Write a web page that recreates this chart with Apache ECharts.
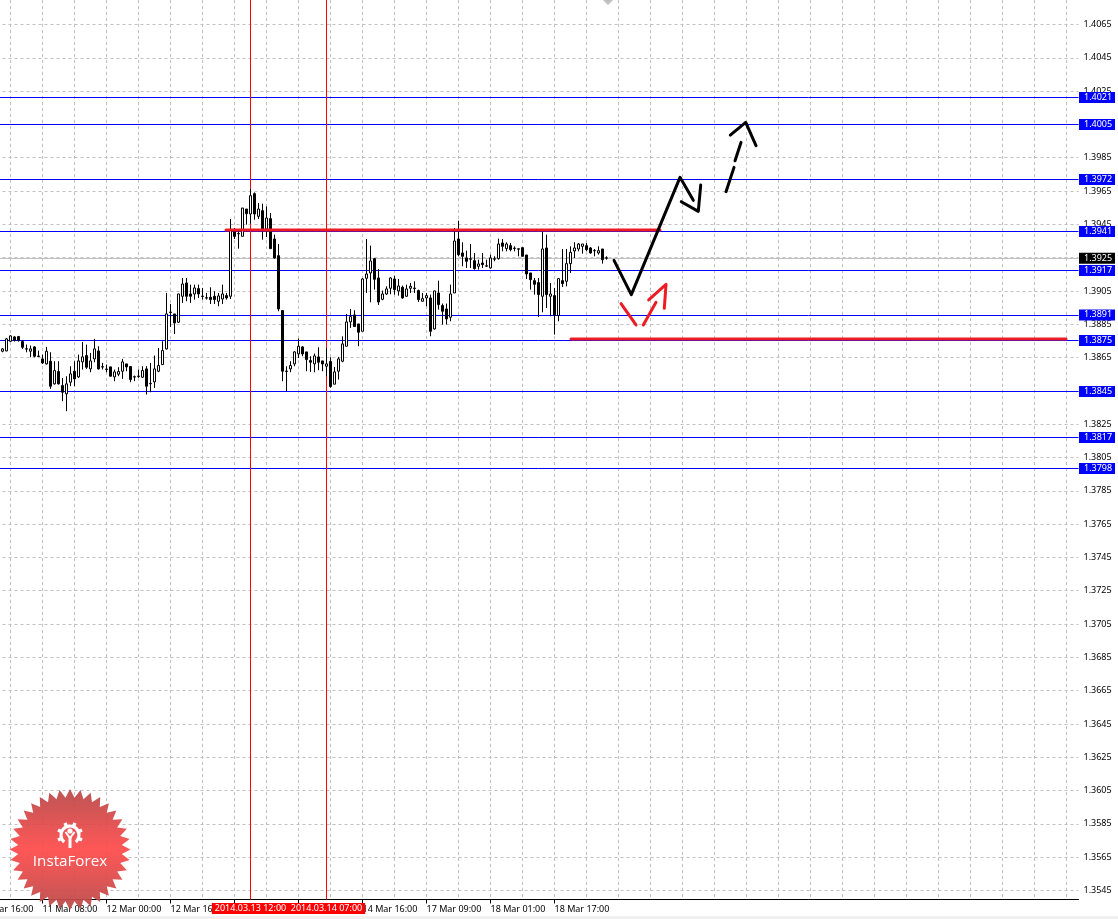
<!DOCTYPE html>
<html><head><meta charset="utf-8">
<style>html,body{margin:0;padding:0;background:#fff}#c{width:1118px;height:919px}</style>
<script src="https://cdn.jsdelivr.net/npm/echarts@6/dist/echarts.min.js"></script>
</head><body><div id="c"></div>
<script>
// [open, close, low, high]
const candles = [
[1.38688,1.38702,1.38682,1.38708],[1.38690,1.38762,1.38688,1.38768],[1.38748,1.38780,1.38744,1.38784],[1.38774,1.38754,1.38746,1.38778],
[1.38776,1.38752,1.38746,1.38780],[1.38746,1.38712,1.38702,1.38754],[1.38703,1.38701,1.38682,1.38728],[1.38688,1.38702,1.38652,1.38722],
[1.38714,1.38658,1.38652,1.38718],[1.38659,1.38657,1.38652,1.38692],[1.38642,1.38618,1.38612,1.38668],[1.38612,1.38688,1.38608,1.38714],
[1.38628,1.38478,1.38462,1.38682],[1.38492,1.38572,1.38488,1.38628],[1.38566,1.38492,1.38488,1.38628],[1.38482,1.38442,1.38388,1.38528],
[1.38432,1.38492,1.38328,1.38538],[1.38502,1.38552,1.38478,1.38598],[1.38568,1.38522,1.38478,1.38628],[1.38534,1.38630,1.38528,1.38668],
[1.38624,1.38654,1.38578,1.38744],[1.38662,1.38592,1.38582,1.38728],[1.38582,1.38630,1.38562,1.38678],[1.38642,1.38702,1.38622,1.38762],
[1.38690,1.38582,1.38578,1.38718],[1.38595,1.38593,1.38578,1.38618],[1.38581,1.38579,1.38562,1.38608],[1.38594,1.38538,1.38538,1.38594],
[1.38534,1.38564,1.38508,1.38578],[1.38550,1.38566,1.38538,1.38592],[1.38568,1.38624,1.38522,1.38642],[1.38612,1.38594,1.38568,1.38612],
[1.38596,1.38518,1.38502,1.38596],[1.38535,1.38533,1.38508,1.38542],[1.38539,1.38537,1.38528,1.38578],[1.38532,1.38572,1.38528,1.38598],
[1.38582,1.38478,1.38428,1.38598],[1.38495,1.38493,1.38442,1.38618],[1.38504,1.38582,1.38468,1.38662],[1.38568,1.38602,1.38562,1.38708],
[1.38608,1.38692,1.38608,1.38748],[1.38702,1.38912,1.38698,1.39038],[1.38923,1.38921,1.38834,1.38972],[1.38912,1.38858,1.38792,1.38912],
[1.38862,1.39032,1.38858,1.39032],[1.39018,1.39092,1.38978,1.39128],[1.39098,1.39018,1.38988,1.39128],[1.39032,1.39018,1.38978,1.39088],
[1.39032,1.39068,1.38998,1.39088],[1.39064,1.39032,1.39008,1.39088],[1.39019,1.39017,1.38998,1.39068],[1.39009,1.39007,1.38998,1.39038],
[1.39012,1.38998,1.38972,1.39072],[1.39018,1.38998,1.38972,1.39048],[1.38988,1.39020,1.38958,1.39038],[1.39002,1.39032,1.38972,1.39088],
[1.39022,1.39008,1.38998,1.39038],[1.39018,1.39418,1.39002,1.39482],[1.39414,1.39378,1.39362,1.39428],[1.39395,1.39393,1.39304,1.39418],
[1.39378,1.39548,1.39378,1.39548],[1.39542,1.39514,1.39448,1.39542],[1.39512,1.39622,1.39454,1.39662],[1.39634,1.39512,1.39478,1.39642],
[1.39498,1.39542,1.39482,1.39578],[1.39532,1.39422,1.39358,1.39574],[1.39422,1.39488,1.39374,1.39558],[1.39484,1.39304,1.39304,1.39518],
[1.39362,1.39248,1.39244,1.39388],[1.39262,1.38942,1.38928,1.39332],[1.38932,1.38568,1.38508,1.38932],[1.38569,1.38567,1.38448,1.38598],
[1.38582,1.38602,1.38562,1.38628],[1.38612,1.38684,1.38598,1.38688],[1.38672,1.38718,1.38648,1.38764],[1.38714,1.38672,1.38658,1.38718],
[1.38684,1.38638,1.38568,1.38684],[1.38632,1.38622,1.38564,1.38658],[1.38612,1.38660,1.38562,1.38674],[1.38654,1.38622,1.38574,1.38712],
[1.38630,1.38612,1.38568,1.38630],[1.38598,1.38612,1.38538,1.38708],[1.38626,1.38476,1.38468,1.38652],[1.38490,1.38564,1.38490,1.38594],
[1.38568,1.38642,1.38518,1.38654],[1.38628,1.38732,1.38622,1.38778],[1.38718,1.38864,1.38718,1.38912],[1.38864,1.38896,1.38828,1.38942],
[1.38906,1.38836,1.38836,1.38934],[1.38852,1.38802,1.38718,1.38852],[1.38808,1.39122,1.38808,1.39126],[1.39126,1.39152,1.39038,1.39362],
[1.39158,1.39230,1.38982,1.39322],[1.39244,1.39120,1.39058,1.39248],[1.39128,1.38984,1.38966,1.39182],[1.39000,1.39032,1.38994,1.39052],
[1.39032,1.39062,1.39026,1.39078],[1.39066,1.39128,1.39030,1.39132],[1.39122,1.39058,1.39028,1.39142],[1.39050,1.39080,1.39022,1.39122],
[1.39072,1.39008,1.39004,1.39082],[1.39018,1.39062,1.39014,1.39088],[1.39066,1.39078,1.39038,1.39098],[1.39067,1.39065,1.39038,1.39108],
[1.39052,1.38998,1.38984,1.39058],[1.38988,1.39004,1.38988,1.39038],[1.39008,1.39022,1.38958,1.39038],[1.39008,1.38808,1.38778,1.39028],
[1.38822,1.39050,1.38818,1.39052],[1.39038,1.38968,1.38938,1.39112],[1.38962,1.38928,1.38848,1.38974],[1.38942,1.38882,1.38848,1.38974],
[1.38892,1.39032,1.38868,1.39088],[1.39038,1.39350,1.39038,1.39428],[1.39362,1.39268,1.39258,1.39472],[1.39278,1.39258,1.39198,1.39342],
[1.39248,1.39228,1.39188,1.39292],[1.39243,1.39241,1.39188,1.39332],[1.39232,1.39184,1.39178,1.39278],[1.39198,1.39212,1.39178,1.39238],
[1.39218,1.39208,1.39188,1.39278],[1.39201,1.39199,1.39194,1.39238],[1.39188,1.39248,1.39184,1.39268],[1.39243,1.39241,1.39228,1.39258],
[1.39244,1.39332,1.39238,1.39364],[1.39338,1.39318,1.39288,1.39362],[1.39304,1.39332,1.39288,1.39342],[1.39322,1.39298,1.39288,1.39338],
[1.39307,1.39305,1.39288,1.39318],[1.39303,1.39301,1.39258,1.39303],[1.39310,1.39258,1.39258,1.39310],[1.39266,1.39152,1.39122,1.39266],
[1.39158,1.39118,1.39058,1.39158],[1.39112,1.39090,1.39028,1.39128],[1.39100,1.39028,1.38894,1.39128],[1.39018,1.39302,1.38922,1.39408],
[1.39308,1.39028,1.38948,1.39388],[1.39018,1.39032,1.38898,1.39098],[1.39022,1.38906,1.38788,1.39068],[1.38902,1.39124,1.38868,1.39128],
[1.39112,1.39094,1.39074,1.39302],[1.39108,1.39214,1.39078,1.39302],[1.39214,1.39282,1.39158,1.39318],[1.39290,1.39308,1.39248,1.39342],
[1.39302,1.39332,1.39288,1.39338],[1.39318,1.39332,1.39274,1.39332],[1.39322,1.39298,1.39288,1.39338],[1.39308,1.39278,1.39274,1.39314],
[1.39293,1.39291,1.39258,1.39302],[1.39278,1.39292,1.39268,1.39318],[1.39302,1.39238,1.39214,1.39302],[1.39249,1.39247,1.39238,1.39258]
];
const levels = [1.40212,1.40050,1.39719,1.39407,1.39173,1.38906,1.38753,1.38446,1.38170,1.37984];
const lastPrice = 1.39246;
const priceTicks = [1.3545,1.3565,1.3585,1.3605,1.3625,1.3645,1.3665,1.3685,1.3705,1.3725,1.3745,1.3765,1.3785,1.3805,1.3825,1.3845,1.3865,1.3885,1.3905,1.3925,1.3945,1.3965,1.3985,1.4005,1.4025,1.4045,1.4065];
const timeLabels = ['10 Mar 16:00','11 Mar 08:00','12 Mar 00:00','12 Mar 16:00','13 Mar 08:00','14 Mar 00:00','14 Mar 16:00','17 Mar 09:00','18 Mar 01:00','18 Mar 17:00'];
const cursorTimes = ['13 Mar 12:00','14 Mar 07:00'];
const cursorNames = ['2014.03.13 12:00','2014.03.14 07:00'];
// hand-drawn annotations: [bar position, price]
const resistance = [[64.88,1.39416],[173.38,1.39416]];
const support = [[151.13,1.38762],[274.88,1.38762]];
const blackStrokes = [
 [[161.88,1.39234],[166.2,1.39028],[178.38,1.39732],[181.7,1.39594]],
 [[178.7,1.39586],[182.95,1.39528],[183.55,1.39686]],
 [[189.88,1.39646],[191.88,1.39792]],
 [[192.13,1.39832],[193.63,1.39942]],
 [[190.95,1.39986],[194.8,1.40062],[197.38,1.39922]]
];
const redStrokes = [
 [[163.63,1.38974],[167.38,1.38846]],
 [[169.2,1.38846],[172.38,1.38982]],
 [[170.55,1.38996],[174.88,1.3909],[174.45,1.38946]]
];

const MON = ['Jan','Feb','Mar'];
const categories = [];
for (let t = Date.UTC(2014,2,10,13); categories.length < 279; t += 3600000) {
  const d = new Date(t);
  const wd = d.getUTCDay();
  if (wd === 0 || wd === 6 || (wd === 5 && d.getUTCHours() === 23)) continue; // market closed
  const p = n => String(n).padStart(2,'0');
  categories.push(p(d.getUTCDate())+' '+MON[d.getUTCMonth()]+' '+p(d.getUTCHours())+':00');
}
const LEAD = 9;
const padded = new Array(LEAD).fill(['-','-','-','-']).concat(candles);
const FONT = 'Noto Sans';
const FS = 9;
const isTick = i => timeLabels.includes(categories[i]);

const lineLabel = {show:true,position:'end',distance:0.5,fontFamily:FONT,fontSize:FS,padding:[1,3,1,5],width:28,height:9,lineHeight:9,align:'left',color:'#fff'};
const levelData = levels.map(v => ({yAxis:v, lineStyle:{color:'#0000ff',width:1,type:'solid'},
  label:{...lineLabel,formatter:v.toFixed(4),backgroundColor:'#0000ff'}}));
levelData.push({yAxis:lastPrice, lineStyle:{color:'#c0c0c0',width:1,type:'solid'},
  label:{...lineLabel,formatter:lastPrice.toFixed(4),backgroundColor:'#000'}});
const cursorData = cursorTimes.map((c,i)=>({xAxis:c,name:cursorNames[i],lineStyle:{color:'#ff0000',width:1,type:'solid'},
  label:{show:true,position:'start',distance:3.5,formatter:cursorNames[i],color:'#fff',backgroundColor:'#ff0000',fontFamily:FONT,fontSize:FS,padding:[1,3,1,3]}}));

const strokeSeries = (pts,color,w)=>({type:'line',xAxisIndex:1,yAxisIndex:0,data:pts,showSymbol:false,symbol:'none',silent:true,animation:false,
  lineStyle:{color,width:w,cap:'round',join:'round'},z:6,clip:false});

// logo star outline (decoration)
const star=[];const N=36;for(let i=0;i<N*2;i++){const r=i%2?52:60.5;const a=Math.PI*i/N-Math.PI/2;star.push([70+r*Math.cos(a),849.5+r*Math.sin(a)]);}
const teeth=[];for(let i=0;i<8;i++){const a=Math.PI/8+i*Math.PI/4+Math.PI/2;if(i===0||i===7)continue;
  teeth.push({type:'line',shape:{x1:70+9*Math.cos(a),y1:835+9*Math.sin(a),x2:70+13*Math.cos(a),y2:835+13*Math.sin(a)},style:{stroke:'#fff',lineWidth:3.4},z:51});}

const chart = echarts.init(document.getElementById('c'),null,{renderer:'canvas'});
chart.setOption({
 animation:false,backgroundColor:'#fff',
 grid:{left:-33.5,right:39.5,top:0,bottom:19.5,outerBoundsMode:'none'},
 xAxis:[{
   type:'category',data:categories,boundaryGap:false,
   axisLine:{lineStyle:{color:'#000',width:1}},
   axisTick:{show:true,length:4,alignWithLabel:true,interval:isTick,lineStyle:{color:'#000'}},
   axisLabel:{show:true,interval:isTick,align:'left',margin:5.5,color:'#000',fontFamily:FONT,fontSize:FS,
     hideOverlap:false,showMinLabel:true,showMaxLabel:true},
   splitLine:{show:true,interval:i=>(i-3)%8===0,lineStyle:{color:'#c0c0c0',type:[3,3],width:1}}
 },{
   type:'value',min:0,max:278,show:false
 }],
 yAxis:{
   type:'value',position:'right',min:1.35396,max:1.40797,scale:true,
   axisLine:{show:true,lineStyle:{color:'#000',width:1}},
   axisTick:{show:true,length:4,customValues:priceTicks,lineStyle:{color:'#000'}},
   axisLabel:{customValues:priceTicks,margin:5,color:'#000',fontFamily:FONT,fontSize:FS,formatter:v=>v.toFixed(4),showMinLabel:true,showMaxLabel:true},
   splitLine:{show:true,lineStyle:{color:'#c0c0c0',type:[3,3],width:1}}
 },
 series:[
  {type:'candlestick',name:'EURUSD',data:padded,barWidth:2,z:3,silent:true,clip:false,
   itemStyle:{color:'#fff',color0:'#000',borderColor:'#000',borderColor0:'#000',borderWidth:1},
   markLine:{silent:true,symbol:'none',z:2,precision:5,data:levelData.concat(cursorData)}},
  strokeSeries(resistance,'#ed1c24',3),
  strokeSeries(support,'#ed1c24',3),
  ...blackStrokes.map(s=>strokeSeries(s,'#000',3)),
  ...redStrokes.map(s=>strokeSeries(s,'#ed1c24',3))
 ],
 graphic:[
  {type:'polygon',shape:{points:[[603,0],[613,0],[608,5]]},style:{fill:'#c0c0c0'},silent:true},
  {type:'rect',shape:{x:0,y:916,width:1118,height:3},style:{fill:'#f0f0f0'},silent:true,z:40},
  {type:'polygon',shape:{points:star},silent:true,z:50,style:{opacity:0.93,
    fill:{type:'linear',x:0,y:0,x2:0,y2:1,colorStops:[{offset:0,color:'#b84848'},{offset:0.5,color:'#ff4a4a'},{offset:1,color:'#b84848'}]}}},
  {type:'arc',shape:{cx:70,cy:835,r:9,startAngle:Math.PI*0.72,endAngle:Math.PI*0.28},style:{stroke:'#fff',lineWidth:3.2,fill:null},silent:true,z:51},
  ...teeth,
  {type:'circle',shape:{cx:70,cy:831,r:2.6},style:{fill:'#fff'},silent:true,z:51},
  {type:'polyline',shape:{points:[[65.5,832],[70,838],[74.5,832]]},style:{stroke:'#fff',lineWidth:2,fill:null},silent:true,z:51},
  {type:'line',shape:{x1:70,y1:837,x2:70,y2:848},style:{stroke:'#fff',lineWidth:3},silent:true,z:51},
  {type:'text',x:70,y:861.5,silent:true,z:51,style:{text:'InstaForex',fill:'#fff',font:'15.2px "Open Sans"',align:'center',verticalAlign:'middle'}}
 ]
});
</script></body></html>
